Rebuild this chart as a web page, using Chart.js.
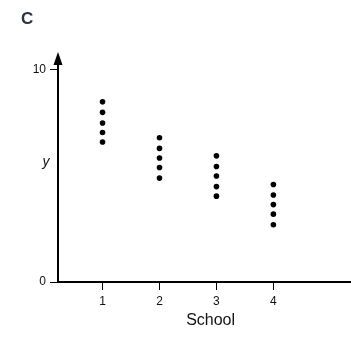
<!DOCTYPE html>
<html>
<head>
<meta charset="utf-8">
<script src="https://cdn.jsdelivr.net/npm/chart.js@4"></script>
<style>
  html, body { margin: 0; padding: 0; background: #fff; overflow: hidden; }
  #wrap { width: 366px; height: 340px; }
</style>
</head>
<body>
<div id="wrap"><canvas id="c" width="366" height="340"></canvas></div>
<script>
const titleText = 'C';
const xTitle = 'School';
const yTitle = 'y';
const schools = [1, 2, 3, 4];
const school1 = [8.5, 8.0, 7.5, 7.05, 6.6];
const school2 = [6.8, 6.3, 5.85, 5.4, 4.9];
const school3 = [5.95, 5.45, 5.0, 4.5, 4.05];
const school4 = [4.6, 4.1, 3.65, 3.2, 2.7];
const xTicks = [1, 2, 3, 4];
const yTicks = [0, 10];

const FONT = "'Liberation Sans', Arial, sans-serif";
const allSeries = [school1, school2, school3, school4];
const points = [];
allSeries.forEach((vals, i) => vals.forEach(v => points.push({ x: schools[i], y: v })));

const extras = {
  id: 'extras',
  afterDraw(chart) {
    const { ctx, chartArea } = chart;
    const x0 = chartArea.left;
    ctx.save();
    ctx.fillStyle = '#000';
    ctx.beginPath();
    ctx.moveTo(x0, 52);
    ctx.lineTo(x0 - 4.5, 65);
    ctx.lineTo(x0 + 4.5, 65);
    ctx.closePath();
    ctx.fill();
    ctx.fillStyle = '#111';
    ctx.font = 'italic 14px ' + FONT;
    ctx.textAlign = 'center';
    ctx.textBaseline = 'alphabetic';
    ctx.fillText(yTitle, 46, 166);
    ctx.restore();
  }
};

new Chart(document.getElementById('c'), {
  type: 'scatter',
  data: {
    datasets: [{
      data: points,
      backgroundColor: '#000',
      borderWidth: 0,
      pointRadius: 2.8,
      pointHoverRadius: 2.8
    }]
  },
  options: {
    responsive: false,
    animation: false,
    devicePixelRatio: 1,
    layout: { padding: { left: 21, top: 0, right: 0, bottom: 0 } },
    plugins: {
      legend: { display: false },
      tooltip: { enabled: false },
      title: {
        display: true,
        text: titleText,
        align: 'start',
        color: '#2b3340',
        font: { family: FONT, size: 17, weight: 'bold' },
        padding: { top: 9, bottom: 30.6 }
      }
    },
    scales: {
      x: {
        type: 'linear',
        position: 'bottom',
        min: 0.218,
        max: 5.577,
        afterBuildTicks: s => { s.ticks = xTicks.map(v => ({ value: v })); },
        afterFit: s => { s.height = 58; },
        ticks: { color: '#111', font: { family: FONT, size: 12 }, padding: 4, callback: v => String(v) },
        grid: { drawOnChartArea: false, tickLength: 8, color: '#000', lineWidth: 1 },
        border: { display: true, color: '#000', width: 2 },
        title: { display: true, text: xTitle, color: '#111', font: { family: FONT, size: 16 }, padding: { top: 4, bottom: 9.4 } }
      },
      y: {
        type: 'linear',
        min: 0,
        max: 10.47,
        afterBuildTicks: s => { s.ticks = yTicks.map(v => ({ value: v })); },
        afterFit: s => { s.width = 37; },
        ticks: { color: '#111', font: { family: FONT, size: 12 }, padding: 4, callback: v => String(v) },
        grid: { drawOnChartArea: false, tickLength: 8, color: '#000', lineWidth: 1 },
        border: { display: true, color: '#000', width: 2 }
      }
    }
  },
  plugins: [extras]
});
</script>
</body>
</html>
